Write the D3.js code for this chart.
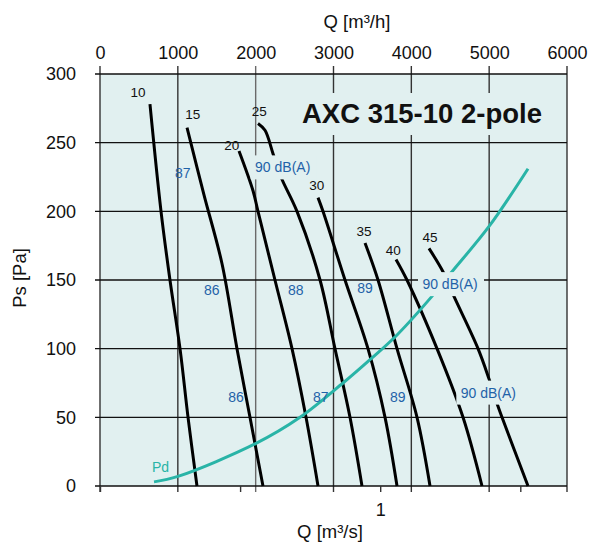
<!DOCTYPE html>
<html>
<head>
<meta charset="utf-8">
<script src="https://cdn.jsdelivr.net/npm/d3@7"></script>
<style>
body { margin: 0; background: #fff; }
text { font-family: "Liberation Sans", Arial, sans-serif; }
</style>
</head>
<body>
<script>
// fan curves, one per blade angle: Q in m3/h, Ps in Pa
const angles = ["10", "15", "20", "25", "30", "35", "40", "45"];
const curveQ = [
  [642, 784, 899, 1028, 1131, 1246],
  [1118, 1336, 1567, 1760, 1927, 2094],
  [1786, 1966, 2030, 2248, 2467, 2647, 2801],
  [2030, 2120, 2223, 2325, 2531, 2827, 3019, 3212, 3366],
  [2801, 2865, 3148, 3443, 3662, 3816],
  [3405, 3572, 3816, 4073, 4240],
  [3803, 3944, 4330, 4664, 4908],
  [4227, 4407, 4548, 4857, 4998, 5101, 5165, 5499]
];
const curvePs = [
  [278, 200, 150, 100, 50, 0],
  [261, 212, 162, 100, 50, 0],
  [244, 215, 200, 150, 100, 50, 0],
  [264, 259, 242, 225, 200, 150, 100, 50, 0],
  [210, 200, 150, 100, 50, 0],
  [177, 150, 100, 50, 0],
  [165, 150, 100, 50, 0],
  [173, 156, 138, 100, 78, 60, 50, 0]
];

// angle label positions (Q, Ps)
const angleLabelQ = [488, 1191, 1692, 2047, 2784, 3392, 3768, 4240];
const angleLabelPs = [287, 271, 248, 273, 219, 186, 172, 181];

// dynamic pressure line
const pdQ = [694, 1002, 2004, 2570, 3122, 3469, 3816, 4278, 4522, 4998, 5499];
const pdPs = [3, 7, 31, 50, 75, 92, 110, 139, 156, 189, 231];

// sound level labels (dB(A))
const dbText = ["87", "90 dB(A)", "86", "88", "89", "90 dB(A)", "86", "87", "89", "90 dB(A)"];
const dbQ = [1063, 2347, 1435, 2514, 3405, 4497, 1747, 2836, 3825, 4989];
const dbPs = [228, 232, 143, 143, 144, 147, 65, 65, 65, 68];

const qTicks = [0, 1000, 2000, 3000, 4000, 5000, 6000];
const psTicks = [0, 50, 100, 150, 200, 250, 300];
const qsTicks = [0, 0.5, 1, 1.5];

const W = 591, H = 543;
const pLeft = 100, pRight = 567, pTop = 74, pBottom = 486;
const bg = "#e1f0f0";
const teal = "#29b4a7";

const svg = d3.select("body").append("svg")
  .attr("width", W)
  .attr("height", H);

const x = d3.scaleLinear().domain([0, 6000]).range([pLeft, pRight]);
const xs = d3.scaleLinear().domain([0, 6000 / 3600]).range([pLeft, pRight]);
const y = d3.scaleLinear().domain([0, 300]).range([pBottom, pTop]);

// plot background
svg.append("rect")
  .attr("x", pLeft).attr("y", pTop)
  .attr("width", pRight - pLeft).attr("height", pBottom - pTop)
  .attr("fill", bg);

// grid
svg.selectAll(".vgrid")
  .data(qTicks)
  .enter()
  .append("line")
  .attr("x1", d => x(d)).attr("x2", d => x(d))
  .attr("y1", pTop - 8).attr("y2", pBottom + 6)
  .attr("stroke", (d) => (d == 2000 ? "#6a6a6a" : "#333"))
  .attr("stroke-width", 1.4);

svg.selectAll(".hgrid")
  .data(psTicks)
  .enter()
  .append("line")
  .attr("x1", pLeft - 5).attr("x2", pRight)
  .attr("y1", d => y(d)).attr("y2", d => y(d))
  .attr("stroke", "#111")
  .attr("stroke-width", 1.3);

// axes
const topAxis = svg.append("g")
  .attr("transform", `translate(0,${pTop})`)
  .call(d3.axisTop(x).tickValues(qTicks).tickSize(0).tickPadding(15).tickFormat(d3.format("d")));

const leftAxis = svg.append("g")
  .attr("transform", `translate(${pLeft},0)`)
  .call(d3.axisLeft(y).tickValues(psTicks).tickSize(0).tickPadding(24));

const bottomAxis = svg.append("g")
  .attr("transform", `translate(0,${pBottom})`)
  .call(d3.axisBottom(xs).tickValues(qsTicks).tickSize(6).tickPadding(11)
    .tickFormat(d => (d == 1 ? "1" : "")));

[topAxis, leftAxis, bottomAxis].forEach(g => {
  g.select(".domain").remove();
  g.selectAll("text").attr("font-size", 18).attr("fill", "#111");
  g.selectAll("line").attr("stroke", "#333").attr("stroke-width", 1.4);
});

// title box
svg.append("rect")
  .attr("x", 297).attr("y", 93)
  .attr("width", 250).attr("height", 42)
  .attr("fill", bg);
svg.append("text")
  .attr("x", 302).attr("y", 123)
  .attr("font-size", 27.5)
  .attr("font-weight", "bold")
  .attr("fill", "#111")
  .text("AXC 315-10 2-pole");

// fan curves
const line = d3.line()
  .x(d => x(d[0]))
  .y(d => y(d[1]))
  .curve(d3.curveCatmullRom.alpha(0.5));

svg.selectAll(".fan")
  .data(angles)
  .enter()
  .append("path")
  .attr("d", (d, i) => line(curveQ[i].map((q, j) => [q, curvePs[i][j]])))
  .attr("fill", "none")
  .attr("stroke", "#000")
  .attr("stroke-width", 3);

// Pd
svg.append("path")
  .attr("d", line(pdQ.map((q, j) => [q, pdPs[j]])))
  .attr("fill", "none")
  .attr("stroke", teal)
  .attr("stroke-width", 3);

svg.append("text")
  .attr("x", x(668)).attr("y", y(10))
  .attr("font-size", 14)
  .attr("fill", teal)
  .text("Pd");

// angle labels
svg.selectAll(".angle")
  .data(angles)
  .enter()
  .append("text")
  .attr("x", (d, i) => x(angleLabelQ[i]))
  .attr("y", (d, i) => y(angleLabelPs[i]) + 5)
  .attr("text-anchor", "middle")
  .attr("font-size", 13.5)
  .attr("fill", "#111")
  .text(d => d);

// dB labels, the long ones sit on a box that hides the lines
const db = svg.selectAll(".db")
  .data(dbText)
  .enter()
  .append("g")
  .attr("transform", (d, i) => `translate(${x(dbQ[i])},${y(dbPs[i])})`);

db.filter(d => d.length > 3)
  .append("rect")
  .attr("x", -32).attr("y", -12)
  .attr("width", 66).attr("height", 24)
  .attr("fill", bg);

db.append("text")
  .attr("y", 5)
  .attr("text-anchor", "middle")
  .attr("font-size", 14)
  .attr("fill", "#1f62a8")
  .text(d => d);

// axis titles
svg.append("text")
  .attr("x", 357).attr("y", 28)
  .attr("text-anchor", "middle")
  .attr("font-size", 18.5).attr("fill", "#111")
  .text("Q [m³/h]");

svg.append("text")
  .attr("transform", "translate(26,278) rotate(-90)")
  .attr("text-anchor", "middle")
  .attr("font-size", 18.5).attr("fill", "#111")
  .text("Ps [Pa]");

svg.append("text")
  .attr("x", 330).attr("y", 538)
  .attr("text-anchor", "middle")
  .attr("font-size", 18.5).attr("fill", "#111")
  .text("Q [m³/s]");
</script>
</body>
</html>
